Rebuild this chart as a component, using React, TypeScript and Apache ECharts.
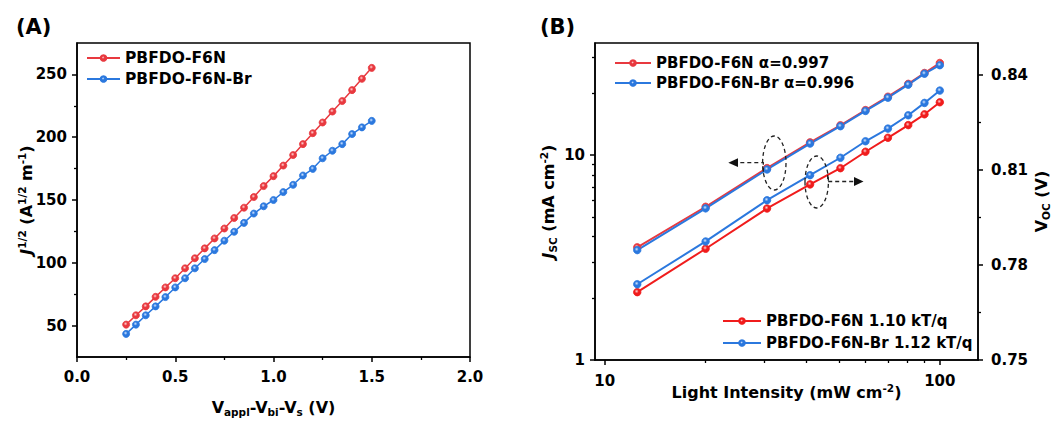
import React, { useEffect, useRef } from 'react';
import * as echarts from 'echarts';

// ---------- Panel A data ----------
const voltage = [0.25, 0.3, 0.35, 0.4, 0.45, 0.5, 0.55, 0.6, 0.65, 0.7, 0.75, 0.8, 0.85, 0.9, 0.95, 1.0, 1.05, 1.1, 1.15, 1.2, 1.25, 1.3, 1.35, 1.4, 1.45, 1.5];
const sqrtJ_F6N = [50.8, 58.2, 65.3, 72.9, 80.4, 87.7, 95.6, 103.6, 111.5, 119.4, 127.3, 135.7, 143.9, 152.4, 161.1, 169.0, 177.4, 185.8, 194.5, 203.2, 211.7, 220.4, 228.8, 237.5, 246.5, 255.2];
const sqrtJ_F6NBr = [43.4, 50.8, 58.2, 65.3, 72.7, 80.4, 87.7, 95.6, 103.0, 110.1, 117.6, 124.7, 131.8, 139.2, 145.0, 150.0, 156.3, 162.1, 169.5, 174.8, 183.2, 189.2, 194.5, 202.5, 207.8, 213.0];
const xTicksA = [0, 0.5, 1.0, 1.5, 2.0];
const yTicksA = [50, 100, 150, 200, 250];
const yMinorA = [75, 125, 175, 225];

// ---------- Panel B data ----------
const intensity = [12.5, 20, 30.5, 41, 50.5, 60, 70, 80.5, 90, 100];
const jsc_F6N = [3.55, 5.6, 8.65, 11.55, 14.0, 16.6, 19.3, 22.3, 25.2, 28.2];
const jsc_F6NBr = [3.44, 5.5, 8.52, 11.4, 13.85, 16.45, 19.1, 22.1, 25.0, 27.5];
const voc_F6N = [0.7714, 0.7851, 0.7978, 0.8054, 0.8105, 0.8157, 0.8201, 0.8241, 0.8275, 0.8313];
const voc_F6NBr = [0.7739, 0.7874, 0.8004, 0.8083, 0.8138, 0.819, 0.823, 0.8272, 0.8311, 0.835];
const xTicksB = [10, 100];
const xMinorB = [20, 30, 40, 50, 60, 70, 80, 90];
const yTicksBLeft = [1, 10];
const yMinorBLeft = [2, 3, 4, 5, 6, 7, 8, 9, 20, 30];
const yTicksBRight = [0.75, 0.78, 0.81, 0.84];
const yMinorBRight = [0.765, 0.795, 0.825];

const FONT = 'DejaVu Sans';
const RED = '#e8393f';
const RED2 = '#f01c1c';
const BLUE = '#2b78de';

const ball = (base: string, light: string) => ({
  type: 'radial',
  x: 0.42,
  y: 0.38,
  r: 0.6,
  colorStops: [
    { offset: 0, color: light },
    { offset: 0.45, color: base },
    { offset: 1, color: base },
  ],
});

const labelStyle = { fontFamily: FONT, fontWeight: 'bold', fontSize: 15, color: '#000' };
const axisLine = { show: true, lineStyle: { color: '#000', width: 1.5 } };
const tickMajor = (vals: number[]) => ({ show: true, inside: false, length: 5, customValues: vals, lineStyle: { color: '#000', width: 1.5 } });
const tickMinor = (vals: number[]) => ({ show: true, inside: false, length: 3, customValues: vals, lineStyle: { color: '#000', width: 1.3 } });

const base = { fontFamily: FONT, fontWeight: 'bold', fontSize: 16, color: '#000', lineHeight: 20 };
const nameRich = {
  b: base,
  i: { ...base, fontStyle: 'italic' },
  sup: { fontFamily: FONT, fontWeight: 'bold', fontSize: 10.5, color: '#000', lineHeight: 10, verticalAlign: 'top' },
  sub: { fontFamily: FONT, fontWeight: 'bold', fontSize: 10.5, color: '#000', lineHeight: 8, verticalAlign: 'bottom' },
};
const nameStyle = { ...base, rich: nameRich };

const lineSeries = (name: string, xi: number, yi: number, xs: number[], ys: number[], color: string, light: string, size: number, width: number) => ({
  type: 'line',
  name,
  xAxisIndex: xi,
  yAxisIndex: yi,
  data: xs.map((x, i) => [x, ys[i]]),
  symbol: 'circle',
  symbolSize: size,
  lineStyle: { color, width },
  itemStyle: { color: ball(color, light), borderColor: color, borderWidth: 0.8 },
  emphasis: { disabled: true },
});

const legendText = (size: number) => ({ fontFamily: FONT, fontWeight: 'bold', fontSize: size, color: '#000', lineHeight: 18 });

const dash = { stroke: '#222', lineWidth: 1.3, lineDash: [4, 3], fill: 'none' };

const option: any = {
  animation: false,
  backgroundColor: '#fff',
  grid: [
    { left: 77, top: 43, width: 393, height: 317, show: true, borderColor: '#000', borderWidth: 1.5, backgroundColor: 'transparent' },
    { left: 595, top: 43, width: 391, height: 317, show: true, borderColor: '#000', borderWidth: 1.5, backgroundColor: 'transparent' },
  ],
  xAxis: [
    {
      gridIndex: 0, type: 'value', min: 0, max: 2, interval: 0.5, position: 'bottom',
      axisLine, axisTick: tickMajor(xTicksA),
      minorTick: { show: true, splitNumber: 2, length: 3, lineStyle: { color: '#000', width: 1.3 } },
      splitLine: { show: false }, minorSplitLine: { show: false },
      axisLabel: { ...labelStyle, margin: 12, customValues: xTicksA, formatter: (v: number) => v.toFixed(1) },
      name: 'V{sub|appl}-V{sub|bi}-V{sub|s} (V)', nameLocation: 'middle', nameGap: 40, nameMoveOverlap: false, nameTextStyle: nameStyle,
    },
    {
      gridIndex: 1, type: 'log', min: 9.35, max: 130, position: 'bottom',
      axisLine, axisTick: tickMajor(xTicksB), splitLine: { show: false },
      axisLabel: { ...labelStyle, margin: 13, customValues: xTicksB, formatter: (v: number) => String(Math.round(v)) },
      name: 'Light Intensity (mW cm{sup|-2})', nameLocation: 'middle', nameGap: 22, nameMoveOverlap: false, nameTextStyle: nameStyle,
    },
    {
      gridIndex: 1, type: 'log', min: 9.35, max: 130, position: 'bottom',
      axisLine: { show: false }, axisTick: tickMinor(xMinorB), splitLine: { show: false },
      axisLabel: { show: false },
    },
  ],
  yAxis: [
    {
      gridIndex: 0, type: 'value', min: 25, max: 275, position: 'left',
      axisLine, axisTick: tickMajor(yTicksA), splitLine: { show: false },
      axisLabel: { ...labelStyle, margin: 10, customValues: yTicksA },
      name: '{i|J}{sup|1/2}{b| (A}{sup|1/2}{b| m}{sup|-1}{b|)}', nameLocation: 'middle', nameGap: 41, nameMoveOverlap: false, nameTextStyle: nameStyle,
    },
    {
      gridIndex: 0, type: 'value', min: 25, max: 275, position: 'left',
      axisLine: { show: false }, axisTick: tickMinor(yMinorA), splitLine: { show: false }, axisLabel: { show: false },
    },
    {
      gridIndex: 1, type: 'log', min: 1, max: 35.3, position: 'left',
      axisLine, axisTick: tickMajor(yTicksBLeft), splitLine: { show: false },
      axisLabel: { ...labelStyle, margin: 10, customValues: yTicksBLeft, formatter: (v: number) => String(Math.round(v)) },
      name: '{i|J}{sub|SC}{b| (mA cm}{sup|-2}{b|)}', nameLocation: 'middle', nameGap: 37, nameMoveOverlap: false, nameTextStyle: nameStyle,
    },
    {
      gridIndex: 1, type: 'log', min: 1, max: 35.3, position: 'left',
      axisLine: { show: false }, axisTick: tickMinor(yMinorBLeft), splitLine: { show: false }, axisLabel: { show: false },
    },
    {
      gridIndex: 1, type: 'value', min: 0.75, max: 0.85, position: 'right',
      axisLine, axisTick: tickMajor(yTicksBRight), splitLine: { show: false },
      axisLabel: { ...labelStyle, margin: 13, customValues: yTicksBRight, formatter: (v: number) => v.toFixed(2) },
      name: 'V{sub|OC} (V)', nameLocation: 'middle', nameGap: 53, nameRotate: 90, nameMoveOverlap: false, nameTextStyle: nameStyle,
    },
    {
      gridIndex: 1, type: 'value', min: 0.75, max: 0.85, position: 'right',
      axisLine: { show: false }, axisTick: tickMinor(yMinorBRight), splitLine: { show: false }, axisLabel: { show: false },
    },
  ],
  legend: [
    {
      data: ['PBFDO-F6N', 'PBFDO-F6N-Br'], orient: 'vertical', left: 86, top: 49, padding: 0,
      itemWidth: 33, itemHeight: 7, itemGap: 3, textStyle: legendText(15.5), selectedMode: false,
    },
    {
      data: ['PBFDO-F6N α=0.997', 'PBFDO-F6N-Br α=0.996'], orient: 'vertical', left: 614, top: 54, padding: 0,
      itemWidth: 36, itemHeight: 7, itemGap: 2, textStyle: legendText(15), selectedMode: false,
    },
    {
      data: ['PBFDO-F6N 1.10 kT/q', 'PBFDO-F6N-Br 1.12 kT/q'], orient: 'vertical', left: 722, top: 312, padding: 0,
      itemWidth: 38, itemHeight: 7, itemGap: 4, textStyle: legendText(15), selectedMode: false,
    },
  ],
  series: [
    lineSeries('PBFDO-F6N', 0, 0, voltage, sqrtJ_F6N, RED, '#ffd6d6', 7, 1.5),
    lineSeries('PBFDO-F6N-Br', 0, 0, voltage, sqrtJ_F6NBr, BLUE, '#d3e5ff', 7, 1.5),
    lineSeries('PBFDO-F6N α=0.997', 1, 2, intensity, jsc_F6N, RED, '#ffd6d6', 7.5, 2),
    lineSeries('PBFDO-F6N-Br α=0.996', 1, 2, intensity, jsc_F6NBr, BLUE, '#d3e5ff', 7.5, 2),
    lineSeries('PBFDO-F6N 1.10 kT/q', 1, 4, intensity, voc_F6N, RED2, '#ffd0d0', 7.5, 2),
    lineSeries('PBFDO-F6N-Br 1.12 kT/q', 1, 4, intensity, voc_F6NBr, BLUE, '#d3e5ff', 7.5, 2),
  ],
  graphic: [
    { type: 'text', left: 16, top: 16, style: { text: '(A)', fontFamily: FONT, fontWeight: 'bold', fontSize: 21, fill: '#000' } },
    { type: 'text', left: 540, top: 16, style: { text: '(B)', fontFamily: FONT, fontWeight: 'bold', fontSize: 21, fill: '#000' } },
    // annotation: Jsc (left axis)
    { type: 'ellipse', z: 100, shape: { cx: 774.3, cy: 163, rx: 11.7, ry: 27 }, style: dash },
    { type: 'polyline', z: 100, shape: { points: [[763.3, 171.7], [763.3, 162.7], [737, 162.7]] }, style: dash },
    { type: 'polygon', z: 100, shape: { points: [[728.3, 162.7], [738, 158.3], [738, 167.1]] }, style: { fill: '#111' } },
    // annotation: Voc (right axis)
    { type: 'ellipse', z: 100, shape: { cx: 816.7, cy: 182, rx: 11.7, ry: 26 }, style: dash },
    { type: 'polyline', z: 100, shape: { points: [[827.7, 175], [827.7, 181.5], [855, 181.5]] }, style: dash },
    { type: 'polygon', z: 100, shape: { points: [[863.5, 181.5], [854, 177.1], [854, 185.9]] }, style: { fill: '#111' } },
  ],
};

export default function App() {
  const ref = useRef<HTMLDivElement>(null);
  useEffect(() => {
    const chart = echarts.init(ref.current as HTMLDivElement, null, { renderer: 'svg' });
    chart.setOption(option);
    return () => chart.dispose();
  }, []);
  return <div ref={ref} style={{ position: 'absolute', left: 0, top: 0, width: 1052, height: 422, background: '#fff' }} />;
}
